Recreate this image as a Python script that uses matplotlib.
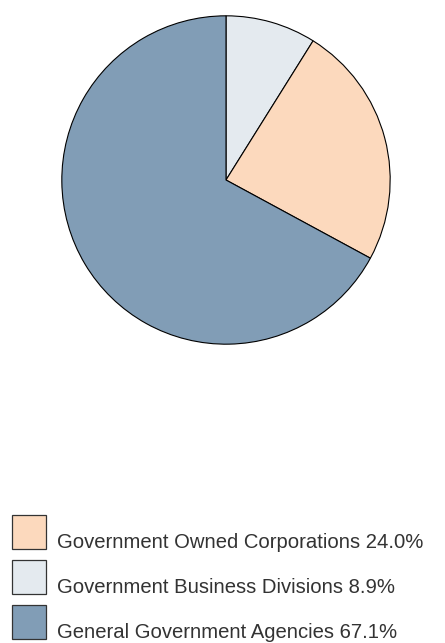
import matplotlib.pyplot as plt
from matplotlib.patches import Rectangle

# share of government entities, drawn clockwise from 12 o'clock
wedge_names = ["Government Business Divisions", "Government Owned Corporations",
               "General Government Agencies"]
wedge_pcts = [8.9, 24.0, 67.1]
wedge_colors = ["#E4EAEF", "#FCD9BD", "#819DB6"]

# legend lists the entries in a different order
legend_order = [1, 0, 2]

W, H = 445, 643


def main():
    fig = plt.figure(figsize=(W / 100, H / 100), dpi=100)
    ax = fig.add_axes([61 / W, (H - 345) / H, 330 / W, 330 / H])
    ax.pie(wedge_pcts, colors=wedge_colors, startangle=90, counterclock=False,
           radius=1.0, wedgeprops=dict(edgecolor="black", linewidth=0.8))
    ax.set_xlim(-1.005, 1.005)
    ax.set_ylim(-1.005, 1.005)
    ax.set_aspect("equal")
    ax.axis("off")

    box_tops = [515, 560, 605]
    for top, i in zip(box_tops, legend_order):
        fig.patches.append(Rectangle((12 / W, (H - top - 34) / H), 34 / W, 34 / H,
                                     transform=fig.transFigure, facecolor=wedge_colors[i],
                                     edgecolor="#333333", linewidth=0.9))
        fig.text(57 / W, (H - top - 33) / H, f"{wedge_names[i]} {wedge_pcts[i]:.1f}%",
                 fontsize=14.6, family="Liberation Sans", color="#333333",
                 va="baseline", ha="left")

    fig.savefig("out.png", dpi=100)
    plt.close(fig)


if __name__ == "__main__":
    main()
